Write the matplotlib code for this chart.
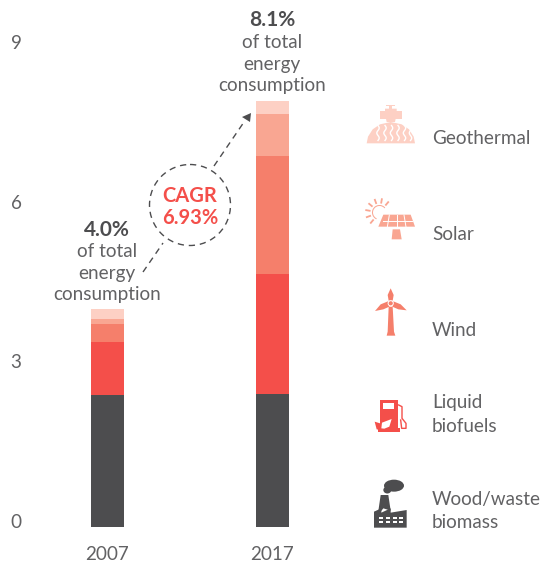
import matplotlib
matplotlib.use('Agg')
import matplotlib.pyplot as plt
import matplotlib.transforms as mtrans
import numpy as np
from matplotlib.patches import Polygon, Circle, Wedge, Ellipse

plt.rcParams['font.family'] = ['Lato', 'DejaVu Sans']

# Data
years = ['2007', '2017']
wood_waste = [2.48, 2.50]
liquid_biofuels = [1.00, 2.25]
wind = [0.34, 2.22]
solar = [0.08, 0.79]
geothermal = [0.19, 0.24]
y_ticks = [0, 3, 6, 9]
share_labels = ['4.0%', '8.1%']
cagr_label = ['CAGR', '6.93%']

series = [wood_waste, liquid_biofuels, wind, solar, geothermal]

DARK = '#4d4d4f'
RED = '#f44f4a'
SALMON = '#f57f6b'
PEACH = '#f9a692'
LIGHT = '#fdd0c4'
TEXT = '#626264'
colors = [DARK, RED, SALMON, PEACH, LIGHT]

W, H = 542, 564
fig = plt.figure(figsize=(W / 100, H / 100), dpi=100, facecolor='white')

# Bars axes: y=0 at pixel 527, y=9 at pixel 48
ax = fig.add_axes([0, (H - 527) / H, 350 / W, (527 - 48) / H])
ax.set_ylim(0, 9)
px = 165.0
ax.set_xlim(-107.5 / px, (350 - 107.5) / px)
x = np.arange(len(years))
bottom = np.zeros(len(years))
for vals, c in zip(series, colors):
    ax.bar(x, vals, width=33 / px, bottom=bottom, color=c, linewidth=0)
    bottom += np.array(vals)

for s in ax.spines.values():
    s.set_visible(False)
ax.patch.set_visible(False)
ax.set_xticks(x, years)
ax.set_yticks(y_ticks, [str(t) for t in y_ticks])
ax.tick_params(axis='x', length=0, pad=13.5, labelsize=13.6, labelcolor=TEXT)
ax.tick_params(axis='y', length=0, pad=-15.5, labelsize=13.6, labelcolor=TEXT)
shift = mtrans.ScaledTranslation(0, -1 / 100, fig.dpi_scale_trans)
for lab in ax.get_yticklabels():
    lab.set_ha('right')
    lab.set_va('baseline')
    lab.set_transform(lab.get_transform() + shift)

# Overlay in pixel coordinates for annotations and icons
ov = fig.add_axes([0, 0, 1, 1])
ov.set_xlim(0, W)
ov.set_ylim(H, 0)
ov.axis('off')
ov.patch.set_visible(False)


def label(tx, ty, s, **kw):
    kw.setdefault('fontsize', 13.6)
    kw.setdefault('color', TEXT)
    ov.text(tx, ty + 1.5, s, ha=kw.pop('ha', 'center'), va='center', **kw)


for cx, ys, share in [(107, (228, 250, 272, 293), share_labels[0]),
                      (272, (19, 41, 63, 84), share_labels[1])]:
    label(cx, ys[0], share, fontweight='bold', color=DARK, fontsize=15)
    label(cx, ys[1], 'of total')
    label(cx, ys[2], 'energy')
    label(cx, ys[3], 'consumption')

# CAGR circle and arrow
ov.add_patch(Circle((190, 205), 40.5, fill=False, ec=DARK, lw=1, ls=(0, (4.5, 3.5))))
label(190, 195, cagr_label[0], color=RED, fontweight='bold', fontsize=14.5)
label(190, 216, cagr_label[1], color=RED, fontweight='bold', fontsize=14.5)
ov.plot([143, 163], [272, 243], color=DARK, lw=1, ls=(0, (4.5, 3.5)))
ov.plot([214, 244], [166, 122], color=DARK, lw=1, ls=(0, (4.5, 3.5)))
ov.add_patch(Polygon([(251, 113), (242, 117), (250, 122)], fc=DARK, ec='none'))

# Legend labels
for ty, s in [(137, 'Geothermal'), (233, 'Solar'), (329, 'Wind'), (401, 'Liquid'),
              (425, 'biofuels'), (498, 'Wood/waste'), (521, 'biomass')]:
    label(432, ty, s, ha='left')


def zp(pts, oy=90):
    # zoom crop coordinates to figure pixels
    return [(350 + a / 3, oy + b / 3) for a, b in pts]


def poly(pts, c, oy=90):
    ov.add_patch(Polygon(zp(pts, oy), fc=c, ec='none'))


# Geothermal icon
dome = [(50, 160), (54, 140), (68, 118), (90, 103), (122, 96), (155, 103), (177, 118), (191, 140), (195, 160)]
poly(dome, LIGHT)
poly([(90, 64), (155, 64), (155, 88), (90, 88)], LIGHT)
poly([(105, 56), (140, 56), (140, 72), (135, 96), (110, 96), (105, 72)], LIGHT)
poly([(118, 44), (126, 44), (126, 58), (118, 58)], LIGHT)
poly([(108, 45), (136, 45), (136, 49), (108, 49)], LIGHT)
for wx in (378.5, 385.5, 392, 398.5, 405, 411):
    t = np.linspace(0, 1, 20)
    ov.plot((wx - 0.5) + 1.2 * np.sin(t * 2 * np.pi * 1.5), 125.5 + t * 15, color='white', lw=1)

# Solar icon
ov.add_patch(Wedge((379.5, 212.5), 7.5, 115, 320, width=1, fc=PEACH, ec='none'))
for ang in np.radians([80, 110, 140, 170, 200, 230, 50]):
    ov.plot([379.5 + 10 * np.cos(ang), 379.5 + 13.5 * np.cos(ang)],
            [212.5 - 10 * np.sin(ang), 212.5 - 13.5 * np.sin(ang)],
            color=PEACH, lw=1.3)
poly([(100, 374), (182, 374), (195, 410), (85, 410)], PEACH)
for a, b in [(118, 112), (140, 140), (162, 168)]:
    ov.plot([350 + a / 3, 350 + b / 3], [215, 227], color='white', lw=0.7)
ov.plot([383, 412], [220.5, 220.5], color='white', lw=0.7)
poly([(128, 418), (150, 418), (155, 448), (125, 448)], PEACH)

# Wind icon
poly([(116, 650), (128, 650), (132, 725), (136, 737), (110, 737), (113, 725)], SALMON)
poly([(122, 595), (131, 615), (128, 632), (116, 632), (113, 615)], SALMON)
poly([(75, 663), (92, 643), (114, 634), (118, 650), (100, 658)], SALMON)
poly([(170, 661), (152, 643), (130, 634), (127, 650), (145, 658)], SALMON)
ov.add_patch(Circle((390.7, 303.3), 2.6, fc=SALMON, ec='white', lw=0.7))

# Liquid biofuels icon
poly([(90, 180), (145, 180), (145, 265), (150, 265), (150, 275), (85, 275), (85, 265), (90, 265)], RED, 340)
poly([(100, 190), (132, 190), (132, 208), (100, 208)], 'white', 340)
ov.plot([350 + 146 / 3, 350 + 156 / 3, 350 + 156 / 3, 350 + 168 / 3, 350 + 168 / 3, 350 + 155 / 3, 350 + 152 / 3],
        [340 + 195 / 3, 340 + 200 / 3, 340 + 235 / 3, 340 + 250 / 3, 340 + 265 / 3, 340 + 265 / 3, 340 + 240 / 3],
        color=RED, lw=1)
poly([(94, 265), (96, 248), (125, 237), (118, 260), (103, 266)], 'white', 340)
poly([(74, 245), (90, 250), (92, 270), (80, 268)], RED, 340)

# Wood/waste biomass icon
poly([(84, 520), (92, 465), (115, 465), (122, 512), (100, 505), (92, 515)], DARK, 340)
ov.add_patch(Ellipse((350 + 132 / 3, 340 + 437 / 3), 20, 12, fc=DARK, ec='none'))
ov.add_patch(Ellipse((350 + 112 / 3, 340 + 450 / 3), 8, 7, fc=DARK, ec='none'))
poly([(72, 515), (94, 505), (94, 518), (122, 505), (122, 518), (170, 510), (170, 563), (72, 563)], DARK, 340)
for wy in (530, 544):
    for wx in (88, 108, 128, 148):
        poly([(wx, wy), (wx + 12, wy), (wx + 12, wy + 6), (wx, wy + 6)], 'white', 340)

fig.savefig('out.png', dpi=100)
